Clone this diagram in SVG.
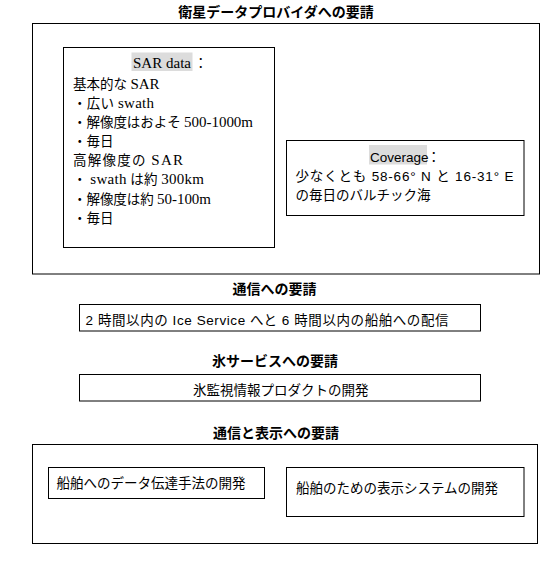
<svg xmlns="http://www.w3.org/2000/svg" width="551" height="567" viewBox="0 0 551 567">
<style>
rect.box{fill:#fff;stroke:#000;stroke-width:1}
rect.hl{fill:#dcdcdc;stroke:none}
text{fill:#000}
.title{font-family:"Noto Sans CJK JP","Noto Sans",sans-serif;font-weight:700;font-size:14px;text-anchor:middle}
.body{font-family:"Liberation Serif","Noto Sans CJK JP",serif;font-size:13.5px}
.lat{font-size:15px}
.sans{font-family:"Liberation Sans","Noto Sans CJK JP",sans-serif;font-size:13.5px}
</style>
<rect width="551" height="567" fill="#fff"/>
<g id="connectors"></g>
<g id="satellite-section">
<text class="title" x="276" y="16.5">衛星データプロバイダへの要請</text>
<rect class="box" x="32.5" y="23.5" width="507" height="250.5"/>
</g>
<g id="sar-data">
<rect class="box" x="63.5" y="47.5" width="211" height="200"/>
<rect class="hl" x="131.5" y="52.5" width="61" height="18.5"/>
<text class="body" x="133" y="68" textLength="58"><tspan class="lat">SAR data</tspan></text>
<text class="body" x="194" y="68">：</text>
<text class="body" x="73" y="88.5">基本的な <tspan class="lat">SAR</tspan></text>
<text class="body" x="73" y="107.5" textLength="81">・広い <tspan class="lat">swath</tspan></text>
<text class="body" x="73" y="126.7" textLength="180">・解像度はおよそ <tspan class="lat">500-1000m</tspan></text>
<text class="body" x="73" y="145.9">・毎日</text>
<text class="body" x="73" y="165.1" textLength="110">高解像度の <tspan class="lat">SAR</tspan></text>
<text class="body" x="73" y="184.3" textLength="131">・ <tspan class="lat">swath</tspan> は約 <tspan class="lat">300km</tspan></text>
<text class="body" x="73" y="203.5" textLength="138">・解像度は約 <tspan class="lat">50-100m</tspan></text>
<text class="body" x="73" y="222.7">・毎日</text>
</g>
<g id="coverage">
<rect class="box" x="286.5" y="140.5" width="237.5" height="75"/>
<rect class="hl" x="369" y="145" width="58" height="19.5"/>
<text class="sans" x="370" y="162">Coverage</text>
<text class="sans" x="427" y="162">：</text>
<text class="sans" x="295.5" y="181" textLength="218">少なくとも 58-66° N と 16-31° E</text>
<text class="sans" x="295.5" y="199.5">の毎日のバルチック海</text>
</g>
<g id="communication">
<text class="title" x="274.5" y="293.5">通信への要請</text>
<rect class="box" x="79.5" y="304.5" width="401" height="26.5"/>
<text class="sans" x="85.5" y="325" textLength="363">2 時間以内の Ice Service へと 6 時間以内の船舶への配信</text>
</g>
<g id="ice-service">
<text class="title" x="275" y="366">氷サービスへの要請</text>
<rect class="box" x="79.5" y="374.5" width="401" height="26.5"/>
<text class="sans" x="193" y="395">氷監視情報プロダクトの開発</text>
</g>
<g id="comm-display-section">
<text class="title" x="276" y="437.5">通信と表示への要請</text>
<rect class="box" x="32.5" y="444.5" width="505" height="99"/>
</g>
<g id="data-transfer">
<rect class="box" x="48.5" y="467.5" width="216" height="31"/>
<text class="sans" x="56.5" y="488">船舶へのデータ伝達手法の開発</text>
</g>
<g id="display-system">
<rect class="box" x="286.5" y="467.5" width="237.5" height="49"/>
<text class="sans" x="296" y="492.5">船舶のための表示システムの開発</text>
</g>
</svg>
